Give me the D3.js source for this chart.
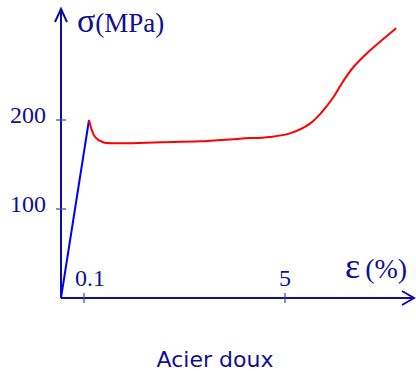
<!DOCTYPE html>
<html>
<head>
<meta charset="utf-8">
<script src="https://cdn.jsdelivr.net/npm/d3@7"></script>
<style>
  body { margin: 0; background: #fff; }
  .tick-label { font-family: "Liberation Serif", serif; font-size: 24px; fill: #101090; }
</style>
</head>
<body>
<div id="chart"></div>
<script>
// Stress-strain curve, mild steel (schematic)
const elasticStrain = [0, 0.222];
const elasticStress = [0, 200];

const plasticStrain = [0.222, 0.368, 0.563, 0.978, 1.95, 2.93, 3.90, 4.63, 5.12, 5.61, 5.90, 6.17, 6.41, 6.66, 7.0, 7.71];
const plasticStress = [200, 181, 175, 174, 175, 176, 179, 181, 185, 196, 209, 225, 243, 259, 275, 303];

const xTicks = [0.1, 5];
const xTickLabels = ["0.1", "5"];
const yTicks = [100, 200];
const yTickLabels = ["100", "200"];

const axisColor = "#0e0e9c";

const svg = d3.select("#chart")
    .append("svg")
    .attr("width", 416)
    .attr("height", 371);

// Broken x scale: small elastic zone is stretched
const x = d3.scaleLinear()
    .domain([0, 0.1, 5])
    .range([61, 84, 285]);

const y = d3.scaleLinear()
    .domain([0, 200])
    .range([298, 120]);

// Axes lines
svg.append("line")
    .attr("x1", 61).attr("x2", 414)
    .attr("y1", y(0)).attr("y2", y(0))
    .attr("stroke", axisColor).attr("stroke-width", 2);

svg.append("line")
    .attr("x1", 61).attr("x2", 61)
    .attr("y1", y(0)).attr("y2", 9)
    .attr("stroke", axisColor).attr("stroke-width", 2);

// Arrow heads
svg.append("path")
    .attr("d", "M402,291 L414,298 L402,305")
    .attr("fill", "none").attr("stroke", axisColor).attr("stroke-width", 2);

svg.append("path")
    .attr("d", "M55,22 L61,9 L67,22")
    .attr("fill", "none").attr("stroke", axisColor).attr("stroke-width", 2);

// Ticks
xTicks.forEach((t, i) => {
    svg.append("line")
        .attr("x1", x(t)).attr("x2", x(t))
        .attr("y1", y(0) - 5).attr("y2", y(0) + 5)
        .attr("stroke", "#4040b0").attr("stroke-width", 1.2);
    svg.append("text")
        .attr("class", "tick-label")
        .attr("x", i === 0 ? x(t) + 6 : x(t))
        .attr("y", 286)
        .attr("text-anchor", "middle")
        .text(xTickLabels[i]);
});

yTicks.forEach((t, i) => {
    svg.append("line")
        .attr("x1", 56).attr("x2", 66)
        .attr("y1", y(t)).attr("y2", y(t))
        .attr("stroke", "#4040b0").attr("stroke-width", 1.2);
    svg.append("text")
        .attr("class", "tick-label")
        .attr("x", 46)
        .attr("y", y(t) + 3)
        .attr("text-anchor", "end")
        .text(yTickLabels[i]);
});

// Axis titles
const yTitle = svg.append("text")
    .attr("x", 77).attr("y", 32)
    .attr("font-family", "Liberation Serif, serif")
    .attr("fill", "#101090");
yTitle.append("tspan").attr("font-size", 34).text("σ");
yTitle.append("tspan").attr("font-size", 27).text("(MPa)");

const xTitle = svg.append("text")
    .attr("x", 345).attr("y", 278)
    .attr("font-family", "Liberation Serif, serif")
    .attr("fill", "#101090");
xTitle.append("tspan").attr("font-size", 36).text("ε");
xTitle.append("tspan").attr("font-size", 28).attr("dx", 5).text("(%)");

// Curves
const line = d3.line()
    .x(d => x(d[0]))
    .y(d => y(d[1]));

svg.append("path")
    .datum(elasticStrain.map((e, i) => [e, elasticStress[i]]))
    .attr("fill", "none")
    .attr("stroke", "#0000ff")
    .attr("stroke-width", 2)
    .attr("d", line);

svg.append("path")
    .datum(plasticStrain.map((e, i) => [e, plasticStress[i]]))
    .attr("fill", "none")
    .attr("stroke", "#ff0000")
    .attr("stroke-width", 2)
    .attr("d", line.curve(d3.curveCatmullRom.alpha(0.5)));

// Caption
svg.append("text")
    .attr("x", 215).attr("y", 367)
    .attr("text-anchor", "middle")
    .attr("font-family", "DejaVu Sans, sans-serif")
    .attr("font-size", 22)
    .attr("fill", "#101090")
    .text("Acier doux");
</script>
</body>
</html>
